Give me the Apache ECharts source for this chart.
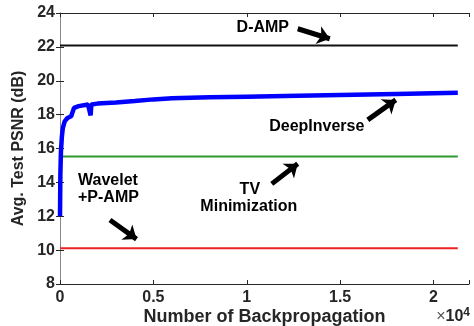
<!DOCTYPE html>
<html>
<head>
<meta charset="utf-8">
<script src="https://cdn.jsdelivr.net/npm/echarts@6/dist/echarts.min.js"></script>
<style>
  html, body { margin: 0; padding: 0; background: #fff; }
  #chart { width: 474px; height: 326px; }
</style>
</head>
<body>
<div id="chart"></div>
<script>
// iterations (backprop steps) and PSNR of DeepInverse
const deepIters = [0, 20, 50, 100, 150, 250, 400, 600, 700, 750, 1000, 1500, 1600, 1640, 1680, 2000, 3000, 4000, 5000, 6000, 8000, 10000, 12000, 15000, 18000, 21300];
const deepPsnr  = [12.0, 14.5, 15.8, 16.7, 17.2, 17.6, 17.8, 17.9, 18.0, 18.4, 18.5, 18.6, 18.6, 17.95, 18.6, 18.65, 18.72, 18.8, 18.9, 18.97, 19.02, 19.06, 19.1, 19.16, 19.22, 19.29];
// constant baselines
const lineEnds = [0, 21300];
const dampPsnr = 22.08;
const tvPsnr = 15.53;
const waveletPsnr = 10.11;
const xTicks = [0, 5000, 10000, 15000, 20000];

const chart = echarts.init(document.getElementById("chart"));
const dark = "#262626";
const font = "Liberation Sans";

const flat = (v) => lineEnds.map((x) => [x, v]);
const arrow = (from, to) => [
  { coord: from, symbol: "none" },
  { coord: to, symbol: "arrow" }
];
const label = (coord, text, align) => ({
  coord: coord,
  value: text,
  label: { align: align || "center" }
});

const option = {
  animation: false,
  grid: { left: 60, right: 5, top: 13, bottom: 42, outerBoundsMode: "none", containLabel: false },
  xAxis: [
    {
      type: "value", min: 0, max: 21900, interval: 5000,
      axisLine: { lineStyle: { color: dark, width: 1 } },
      axisTick: { inside: true, length: 4, lineStyle: { color: dark } },
      splitLine: { show: false },
      axisLabel: {
        color: dark, fontFamily: font, fontWeight: "bold", fontSize: 16, margin: 6,
        formatter: (v) => xTicks.indexOf(v) >= 0 ? String(v / 10000) : ""
      },
      name: "Number of Backpropagation",
      nameLocation: "middle", nameGap: 24, nameMoveOverlap: false,
      nameTextStyle: { color: dark, fontFamily: font, fontWeight: "bold", fontSize: 18 }
    },
    {
      type: "value", position: "top", min: 0, max: 21900, interval: 5000,
      axisLine: { show: true, lineStyle: { color: dark, width: 1 } },
      axisTick: { inside: true, length: 4, lineStyle: { color: dark } },
      axisLabel: { show: false }, splitLine: { show: false }
    }
  ],
  yAxis: [
    {
      type: "value", min: 8, max: 24, interval: 2,
      axisLine: { show: true, lineStyle: { color: "#888", width: 1 } },
      axisTick: { inside: true, length: 4, lineStyle: { color: dark } },
      splitLine: { show: false },
      axisLabel: { color: dark, fontFamily: font, fontWeight: "bold", fontSize: 16, margin: 5 },
      name: "Avg. Test PSNR (dB)",
      nameLocation: "middle", nameGap: 33, nameMoveOverlap: false,
      nameTextStyle: { color: dark, fontFamily: font, fontWeight: "bold", fontSize: 16 }
    },
    {
      type: "value", position: "right", min: 8, max: 24, interval: 2,
      axisLine: { show: true, lineStyle: { color: "#888", width: 1 } },
      axisTick: { inside: true, length: 4, lineStyle: { color: dark } },
      axisLabel: { show: false }, splitLine: { show: false }
    }
  ],
  series: [
    {
      name: "D-AMP", type: "line", data: flat(dampPsnr), symbol: "none",
      lineStyle: { color: "#111", width: 2 }, z: 3
    },
    {
      name: "TV", type: "line", data: flat(tvPsnr), symbol: "none",
      lineStyle: { color: "#2e9a2e", width: 2 }, z: 3
    },
    {
      name: "Wavelet", type: "line", data: flat(waveletPsnr), symbol: "none",
      lineStyle: { color: "#ee2222", width: 2 }, z: 3
    },
    {
      name: "DeepInverse", type: "line",
      data: deepIters.map((x, i) => [x, deepPsnr[i]]),
      symbol: "none",
      lineStyle: { color: "#0000ff", width: 4.5 }, z: 4,
      markLine: {
        silent: true,
        symbolSize: [14, 12],
        label: { show: false },
        lineStyle: { color: "#000", width: 5, type: "solid" },
        data: [
          arrow([12730, 23.07], [14445, 22.48]),
          arrow([16480, 17.69], [17980, 18.87]),
          arrow([11340, 13.91], [12730, 15.1]),
          arrow([2675, 11.78], [4100, 10.65])
        ]
      },
      markPoint: {
        silent: true,
        symbol: "circle", symbolSize: 0,
        label: {
          show: true, color: "#000", fontFamily: font, fontWeight: "bold", fontSize: 16,
          formatter: (p) => p.value
        },
        data: [
          label([10860, 23.15], "D-AMP"),
          label([13750, 17.28], "DeepInverse"),
          label([10165, 13.56], "TV"),
          label([10110, 12.55], "Minimization"),
          label([963, 14.11], "Wavelet", "left"),
          label([963, 13.1], "+P-AMP", "left")
        ]
      }
    }
  ],
  graphic: [
    {
      type: "text", right: 4, bottom: 1,
      style: {
        text: "{x|×}10{s|4}", fill: dark, font: "bold 16px " + font,
        rich: {
          x: { fontSize: 16, fontWeight: "normal", fill: "#555" },
          s: { fontSize: 12, fontWeight: "bold", fill: dark, verticalAlign: "top", padding: [0, 0, 8, 0] }
        }
      }
    }
  ]
};
chart.setOption(option);
</script>
</body>
</html>
